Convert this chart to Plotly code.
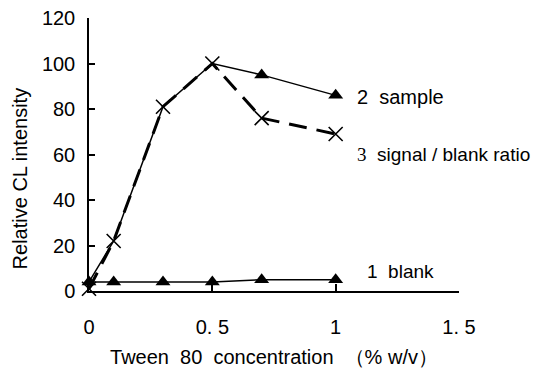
import plotly.graph_objects as go

conc = [0, 0.1, 0.3, 0.5, 0.7, 1.0]
blank = [4, 4, 4, 4, 5, 5]
sample = [4, 22, 81, 100, 95, 86]
ratio = [1, 22, 81, 100, 76, 69]
sample_marker_opacity = [0, 0, 0, 0, 1, 1]

x_ticks = [0, 0.5, 1, 1.5]
x_ticktext = ["0", "0. 5", "1", "1. 5"]
y_ticks = [0, 20, 40, 60, 80, 100, 120]

FONT = "Liberation Sans, Arial, sans-serif"

fig = go.Figure()
fig.add_trace(go.Scatter(x=conc, y=blank, mode="lines+markers",
                         line=dict(color="black", width=1.5),
                         marker=dict(symbol="triangle-up", size=13, color="black",
                                     line=dict(width=0)),
                         cliponaxis=False, showlegend=False))
fig.add_trace(go.Scatter(x=conc, y=sample, mode="lines+markers",
                         line=dict(color="black", width=1.5),
                         marker=dict(symbol="triangle-up", size=13, color="black",
                                     opacity=sample_marker_opacity, line=dict(width=0)),
                         cliponaxis=False, showlegend=False))
fig.add_trace(go.Scatter(x=conc, y=ratio, mode="lines+markers",
                         line=dict(color="black", width=3, dash="18px,10px"),
                         marker=dict(symbol="x-thin-open", size=14,
                                     line=dict(color="black", width=1.6)),
                         cliponaxis=False, showlegend=False))

fig.add_annotation(x=1.078, y=85.3, xref="x", yref="y", text="2  sample",
                   showarrow=False, xanchor="left", yanchor="middle",
                   font=dict(size=20, color="black", family=FONT))
fig.add_annotation(x=1.078, y=59.8, xref="x", yref="y",
                   text="<span style='font-family:Liberation Serif'>3</span>  signal / blank ratio",
                   showarrow=False, xanchor="left", yanchor="middle",
                   font=dict(size=19, color="black", family=FONT))
fig.add_annotation(x=1.119, y=8.6, xref="x", yref="y", text="1  blank",
                   showarrow=False, xanchor="left", yanchor="middle",
                   font=dict(size=19, color="black", family=FONT))
# y-axis title (placed as in the reference, slightly below the plot centre)
fig.add_annotation(x=0, y=49.5, xref="paper", yref="y", xshift=-69,
                   text="Relative CL intensity", textangle=-90,
                   showarrow=False, xanchor="center", yanchor="middle",
                   font=dict(size=20, color="black", family=FONT))

fig.update_layout(
    width=535, height=360,
    margin=dict(l=81, r=84, t=10, b=77),
    paper_bgcolor="white", plot_bgcolor="white",
    font=dict(family=FONT, size=20, color="black"),
    xaxis=dict(range=[0, 1.5], tickvals=x_ticks, ticktext=x_ticktext,
               showline=True, linecolor="black", linewidth=1.5,
               ticks="inside", ticklen=7, tickcolor="black", tickwidth=1.5,
               ticklabelstandoff=17, ticklabeloverflow="allow",
               showgrid=False, zeroline=False, automargin=False,
               title=dict(text="Tween  80  concentration  （% w/v）", font=dict(size=20), standoff=14),
               tickfont=dict(size=20)),
    yaxis=dict(range=[0, 120], tickvals=y_ticks,
               showline=True, linecolor="black", linewidth=1.5,
               ticks="inside", ticklen=6, tickcolor="black", tickwidth=1.5,
               ticklabelstandoff=8, ticklabeloverflow="allow",
               showgrid=False, zeroline=False, automargin=False,
               tickfont=dict(size=20)),
)

fig.write_html("out.html")
